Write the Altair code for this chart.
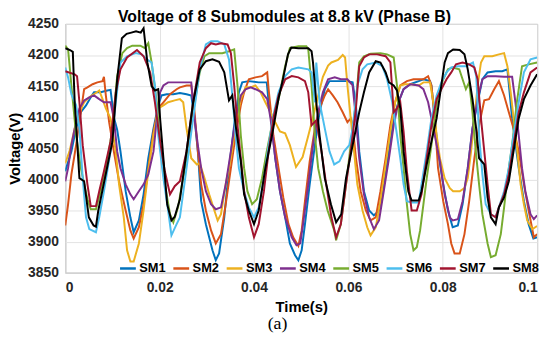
import altair as alt
import pandas as pd

SERIES = ["SM1", "SM2", "SM3", "SM4", "SM5", "SM6", "SM7", "SM8"]
COLORS = ["#0072BD", "#D95319", "#EDB120", "#7E2F8E", "#77AC30", "#4DBEEE", "#A2142F", "#000000"]

# time in ms, voltage in V
SM1_T = [0,1.3,2.3,3.3,4.4,5.4,6.1,7.5,8.9,9.6,10.3,11,11.7,12.8,13.8,14.5,15.6,16.6,17.6,18.7,19.7,20.4,21.5,22.9,24.3,25.7,26.7,27.4,28.1,28.8,29.8,31.2,31.9,32.6,33.7,34.7,35.8,36.8,37.5,38.9,41,42.7,43.1,43.8,44.5,45.5,46.6,47.6,48.7,49.4,50.1,50.8,51.8,52.9,53.9,55,56,57.7,59.8,60.9,61.6,62.3,63.3,64.4,65.4,66.5,67.5,68.6,69.6,70.6,71.7,73.1,74.9,75.9,77.3,77.6,78.3,79,80.1,81.1,82.1,83.2,84.2,85.3,86.3,87.4,88.4,89.5,91.2,92.6,93.7,94.7,96.1,97.2,98.2,99.2,100]
SM1_V = [4013,4045,4082,4108,4119,4132,4140,4140,4143,4144,4100,4080,4045,3981,3939,3915,3934,3976,4034,4082,4119,4135,4137,4137,4139,4137,4135,4098,4045,3965,3928,3886,3870,3881,3939,4018,4087,4140,4156,4158,4156,4156,4124,4087,4034,3981,3939,3897,3878,3870,3886,3928,3992,4055,4108,4145,4158,4158,4158,4156,4119,4045,3981,3950,3942,3950,3992,4045,4098,4124,4145,4153,4158,4161,4158,4151,4098,4045,3992,3950,3923,3926,3960,4018,4082,4124,4161,4172,4174,4174,4177,4098,4018,3965,3928,3905,3907]

SM2_T = [0,0.6,1.3,2.3,3.3,4,4.7,5.8,6.8,7.9,8.2,8.6,9.3,10.3,11.4,12.8,13.8,14.5,15.6,16.6,17.6,18.7,19.7,20.8,22.2,23.6,24.3,25.7,26.7,27.4,28.1,28.8,29.8,30.9,31.9,33,34,35.1,36.1,37.2,37.9,38.9,40.3,41.7,42.8,43.1,44.1,45.2,46.2,47.3,48.3,49.4,50.1,50.8,51.8,52.9,53.9,55,55.7,56.7,57.7,58.8,59.8,60.5,60.9,61.6,62.6,63.7,64.7,65.8,66.8,67.9,68.9,69.9,71,72.4,73.8,75.9,76.9,77.6,78.3,79,80.1,81.1,81.8,82.5,83.6,84.6,85.6,86.7,87.7,88.8,89.8,90.9,91.9,93,94,95,96.1,97.2,98.2,99.3,100]
SM2_V = [3926,3960,4008,4055,4108,4145,4148,4153,4156,4158,4165,4135,4092,4045,3997,3950,3918,3905,3923,3960,4018,4077,4114,4124,4137,4145,4148,4151,4151,4108,4045,3992,3950,3918,3897,3912,3960,4018,4071,4119,4140,4161,4164,4166,4172,4145,4071,4018,3971,3928,3907,3893,3918,3965,4029,4082,4114,4135,4145,4135,4124,4108,4092,4098,4087,4034,3981,3950,3934,3939,3981,4034,4087,4124,4151,4158,4161,4161,4166,4151,4098,4018,3965,3928,3897,3881,3881,3912,3965,4034,4087,4127,4129,4145,4158,4135,4108,4082,4045,3992,3950,3907,3912]

SM3_T = [0,0.9,2,3,4,5.1,6.1,7.2,7.9,8.6,9.6,10.7,11.4,12.4,13.1,13.8,14.5,15.6,16.6,17.6,18.7,19.7,20.8,21.8,23.2,24.3,25,25.7,26.7,27.9,28.5,29.5,30.5,31.6,32.3,33,34,35.1,36.1,37.2,38.2,39.3,40.3,41.4,42.4,43.5,44.5,45.5,46.6,47.6,48.9,50.3,51.5,52.5,53.6,54.6,55.7,56.4,57.8,58.8,59.3,59.8,60.5,61.2,61.9,63,64,64.7,65.8,66.8,67.9,68.9,69.9,71,72,73.4,74.9,75.9,77.3,78,78.7,79.4,80.4,81.5,82.2,83.6,84.6,85.3,86,86.7,87.4,88.1,88.8,90.5,91.9,93,93.7,94.4,95.1,95.8,96.5,97.2,97.9,99,100]
SM3_V = [4026,4045,4082,4108,4124,4132,4137,4143,4129,4114,4098,4045,3992,3939,3886,3868,3868,3897,3950,4013,4071,4114,4119,4124,4127,4129,4124,4082,4034,4024,4026,4002,3976,3950,3934,3944,3992,4034,4087,4129,4148,4148,4151,4140,4124,4108,4092,4077,4074,4055,4020,4036,4070,4100,4135,4165,4183,4188,4192,4200,4196,4151,4098,4045,3992,3950,3923,3910,3923,3965,4024,4077,4124,4151,4153,4153,4151,4156,4156,4124,4071,4034,4002,3986,3981,3981,3986,4002,4045,4098,4151,4188,4198,4198,4201,4203,4182,4140,4092,4045,3992,3960,3934,3920,3925]

SM4_T = [0,0.6,1.3,2,3,4,5.1,6.1,7.2,8.2,9.6,10.3,11,11.7,12.8,13.8,14.5,15.6,16.6,17.6,18.7,19.4,20.1,20.8,21.8,23.2,24.7,26.7,27.4,28.1,28.8,29.8,30.9,31.9,33,34,35.1,36.1,37.2,38.2,39.3,40.3,41.7,42.8,43.5,44.5,45.5,46.6,48,49,49.8,50.4,51.5,52.5,53.6,54.6,55.7,57.1,58.4,59.8,60.9,61.6,62.3,63.3,64.4,65.4,66.5,67.5,68.6,69.6,70.6,71.7,73.1,74.9,75.9,76.9,77.6,78.3,79.4,80.4,81.5,82.1,83.2,84.2,85.3,86.3,87.4,88.4,89.5,91.2,93,94.7,95.4,96.1,96.8,97.5,98.6,99.3,100]
SM4_V = [3997,4018,4055,4082,4114,4127,4132,4135,4129,4124,4124,4098,4045,4018,3992,3976,3968,3981,3992,4008,4045,4098,4140,4151,4156,4156,4156,4156,4098,4055,4018,3981,3960,3952,3955,3992,4045,4098,4135,4145,4148,4145,4140,4129,4098,4034,3981,3939,3907,3894,3897,3928,3992,4055,4108,4140,4161,4164,4161,4161,4151,4098,4034,3976,3939,3920,3934,3981,4034,4087,4124,4145,4153,4151,4145,4124,4098,4071,4029,3976,3939,3934,3936,3965,4018,4082,4129,4161,4166,4166,4165,4165,4124,4071,4018,3981,3944,3936,3942]

SM5_T = [0,0.6,1.3,2.3,3.3,4.7,5.4,6.5,7.5,8.9,10,11,12.1,13.1,14.2,15.9,16.9,17.6,18.3,19.4,20.1,21.1,22.2,22.9,23.9,25.7,27.1,28.5,29.5,30.5,31.9,33.3,34.7,35.8,36.5,37.2,37.9,38.6,39.6,40.6,41.7,42.7,43.8,45.2,46.6,47.6,49.4,51.1,51.5,52.2,52.9,53.6,54.6,55.6,57,57.4,58.4,59.5,60.5,61.6,62.3,63.3,64.7,66.8,68.2,69.6,70.3,71,71.7,72.4,73.1,73.8,74.5,75.2,75.9,76.6,77.6,78.3,79,80.1,81.1,82.1,83.5,84.2,84.9,85.6,86.3,87,87.7,88.4,89.5,90.2,91.2,92.3,93,93.7,94.7,95.7,96.8,98.2,100]
SM5_V = [4215,4209,4151,4071,4018,3968,3952,3952,3981,4029,4082,4166,4203,4211,4215,4215,4211,4219,4188,4124,4055,3992,3944,3931,3955,4034,4108,4172,4198,4203,4203,4203,4206,4209,4151,4071,4018,3981,3960,3968,4002,4045,4087,4129,4182,4211,4214,4214,4209,4151,4071,4018,3981,3950,3918,3902,3928,3992,4055,4124,4188,4198,4202,4203,4201,4196,4151,4071,4018,3960,3912,3886,3891,3918,3960,4002,4055,4098,4135,4161,4177,4180,4177,4161,4145,4156,4108,4045,3992,3944,3897,3875,3878,3912,3955,4002,4055,4124,4182,4185,4188]

SM6_T = [0,0.6,1.3,2.3,3,3.7,4.4,5.1,6.5,7.2,8.2,9.6,10.7,11.7,13.1,14.9,16.2,17.3,18.3,19,19.7,20.8,21.8,22.5,23.6,24.3,25.7,27.1,28.5,29.8,30.9,32.3,33.7,34.7,35.4,36.1,36.8,37.9,38.9,40,41,42.1,43.1,44.1,45.2,46.6,48,49.4,51.5,52.2,52.9,53.2,53.9,55,56,57,58.1,59.1,60.2,60.9,61.9,63,64,65.8,67.2,68.2,69.3,70.3,71,71.7,72.4,73.4,74.9,75.5,76.6,77.6,78.7,79.7,80.8,81.8,83.2,85,86.4,87.1,87.7,88.4,89.1,90.2,91.2,91.9,93,94,95,96.1,97.2,98.6,100]
SM6_V = [4180,4164,4137,4119,4082,4002,3939,3920,3915,3939,3981,4045,4124,4188,4198,4203,4201,4193,4188,4151,4071,4002,3950,3910,3928,3939,4018,4098,4177,4217,4222,4222,4217,4193,4135,4071,4018,3981,3955,3939,3955,4002,4055,4103,4140,4166,4177,4180,4177,4172,4124,4188,4124,4082,4045,4024,4029,4045,4055,4082,4151,4177,4185,4188,4182,4161,4124,4071,4034,3992,3965,3963,3963,3992,4045,4098,4135,4156,4172,4180,4182,4182,4188,4166,4071,4008,3960,3944,3939,3955,3981,4018,4071,4124,4172,4193,4196]

SM7_T = [0,2,2.5,3,3.7,4.7,5.4,6.5,7.2,8.2,9.6,10.7,11.7,13.1,15.2,16.6,18,19,20.1,21.1,22.2,23.2,24.3,25.7,27.1,28.5,29.8,30.9,31.9,33,34.4,35.1,35.8,36.5,37.2,37.9,38.9,40,41,42.1,43.1,44.1,45.2,46.6,48,49.4,50.8,51.5,52.2,53.2,54.3,55.3,56.4,57.4,58.4,59.5,60.5,61.6,62.3,63.3,64.4,66.1,67.9,68.9,69.6,70.3,71,71.7,72.4,73.4,74.5,75.5,76.6,77.6,78.7,79.7,80.8,81.8,82.8,84.2,85.6,86.7,87.4,88.1,88.8,89.5,90.2,91.2,91.9,93,94,95,96.1,97.2,98.6,100]
SM7_V = [4174,4169,4166,4124,4055,3992,3957,3957,3981,4013,4061,4140,4177,4196,4208,4198,4172,4124,4061,4013,3976,3989,3997,4045,4124,4188,4211,4219,4217,4219,4217,4203,4151,4087,4034,3981,3939,3907,3928,3981,4045,4098,4135,4161,4166,4164,4158,4140,4087,4095,4045,3992,3939,3907,3928,3992,4045,4114,4182,4196,4201,4201,4198,4188,4108,4114,4124,4077,4013,3950,3950,3976,4034,4087,4129,4145,4161,4172,4185,4188,4185,4180,4161,4098,4045,3992,3944,3939,3955,3976,4008,4055,4108,4140,4172,4180]

SM8_T = [0,1,1.6,2,3,4,5,6,6.5,7,8,9,10,11,12,13,14,15,16,16.6,17.4,18.3,19,19.7,20.1,20.8,21.6,22.5,23.2,24.3,25.7,27.1,28.5,29.8,31.2,32.6,33.7,34.7,35.4,36.1,37.2,37.9,38.9,40,41,42.4,43.8,45.2,46.1,47.2,47.9,49.4,51.5,52.2,52.5,53.2,53.9,55,56.3,57.4,58.5,59.5,60.9,62.3,63.3,64.4,65.8,66.8,67.9,68.6,69.6,70.3,71,71.7,72.7,73.4,74.9,75.5,76.6,77.6,78.7,79.7,80.4,81.1,82.2,83.6,84.6,85.3,86.3,87,87.7,88.8,89.5,90.2,91.2,91.9,93,94,95,96.1,97.2,98.6,100]
SM8_V = [4211,4208,4205,4124,4002,3997,3939,3926,3924,3950,3987,4024,4061,4161,4227,4234,4236,4238,4236,4243,4188,4150,4143,4145,4098,4034,3960,3934,3940,3968,4045,4124,4177,4190,4193,4189,4172,4127,4135,4087,4029,3976,3950,3928,3950,4018,4070,4130,4160,4201,4212,4211,4211,4206,4188,4124,4071,4002,3960,3931,3944,4002,4055,4108,4140,4172,4190,4188,4172,4156,4151,4143,4114,4045,3981,3966,3966,3981,4024,4061,4098,4151,4188,4203,4209,4208,4201,4177,4129,4087,4034,4024,3971,3939,3928,3955,3971,3997,4045,4098,4129,4151,4169]

X_TICKS = [0, 0.02, 0.04, 0.06, 0.08, 0.1]
Y_TICKS = [3850, 3900, 3950, 4000, 4050, 4100, 4150, 4200, 4250]

TITLE = ["Voltage of 8 Submodules at 8.8 kV (Phase B)"]
X_TITLE = "Time(s)"
Y_TITLE = "Voltage(V)"
CAPTION = ["(a)"]

all_t = [SM1_T, SM2_T, SM3_T, SM4_T, SM5_T, SM6_T, SM7_T, SM8_T]
all_v = [SM1_V, SM2_V, SM3_V, SM4_V, SM5_V, SM6_V, SM7_V, SM8_V]

rows = []
for name, ts, vs in zip(SERIES, all_t, all_v):
    assert len(ts) == len(vs), name
    for t, v in zip(ts, vs):
        rows.append({"Time": t / 1000.0, "Voltage": v, "Series": name})
df = pd.DataFrame(rows)

FONT = "Liberation Sans"

lines = alt.Chart(df).mark_line(strokeWidth=2, clip=True).encode(
    x=alt.X("Time:Q",
            scale=alt.Scale(domain=[0, 0.1], nice=False, zero=False),
            axis=alt.Axis(values=X_TICKS, format="~g", title=X_TITLE,
                          labelPadding=8, titleY=27, titleBaseline="top")),
    y=alt.Y("Voltage:Q",
            scale=alt.Scale(domain=[3850, 4250], nice=False, zero=False),
            axis=alt.Axis(values=Y_TICKS, format="d", title=Y_TITLE, labelPadding=7,
                          titleX=-51, titleY=126, titleAngle=270,
                          titleBaseline="middle", titleAlign="center")),
    color=alt.Color("Series:N",
                    scale=alt.Scale(domain=SERIES, range=COLORS),
                    legend=alt.Legend(orient="none", legendX=54, legendY=238,
                                      direction="horizontal", columns=8,
                                      title=None, symbolType="stroke",
                                      symbolStrokeWidth=2.5, symbolSize=256,
                                      labelFont=FONT, labelFontWeight="bold",
                                      labelFontSize=13, labelColor="#000000",
                                      labelOffset=2, columnPadding=2,
                                      padding=0)),
)

title = alt.Chart(pd.DataFrame({"label": TITLE})).mark_text(
    font=FONT, fontSize=16, fontWeight="bold", color="#000000",
    align="center", baseline="middle"
).encode(
    text="label:N",
    x=alt.value(222),
    y=alt.value(-7),
)

caption = alt.Chart(pd.DataFrame({"label": CAPTION})).mark_text(
    font="Liberation Serif", fontSize=18, color="#000000",
    align="center", baseline="middle"
).encode(
    text="label:N",
    x=alt.value(215),
    y=alt.value(304),
)

chart = alt.layer(lines, title, caption).properties(
    width=478,
    height=252,
    autosize=alt.AutoSizeParams(type="none"),
    padding={"left": 58, "top": 14, "right": 10, "bottom": 60},
    background="white",
).configure_axis(
    labelFont=FONT, labelFontWeight="bold", labelFontSize=14, labelColor="#262626",
    titleFont=FONT, titleFontWeight="bold", titleFontSize=15, titleColor="#000000",
    grid=True, gridColor="#e3e3e3", gridWidth=1,
    domain=False, ticks=False,
).configure_view(
    stroke="#8a8a8a", strokeWidth=1,
)

chart.save("out.html", embed_options={"renderer": "svg", "actions": False})
